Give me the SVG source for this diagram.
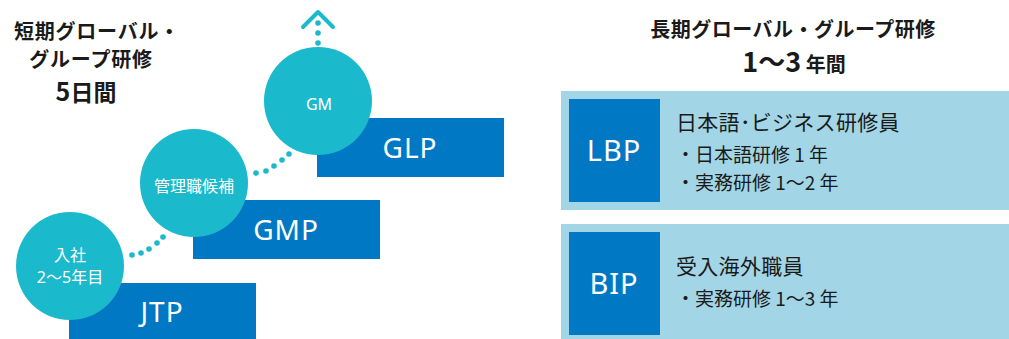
<svg xmlns="http://www.w3.org/2000/svg" width="1009" height="339" viewBox="0 0 1009 339">
<style>
.t{font-family:"Noto Sans CJK JP","Noto Sans",sans-serif;fill:#1a1a1a}
.b{font-weight:bold}
.w{fill:#fff;font-family:"Noto Sans","Noto Sans CJK JP",sans-serif}
.rect{fill:#0078c3}
.circ{fill:#1bb9cc}
.lb{fill:#a2d6e6}
.dot{fill:#1bb9cc}
</style>
<rect width="1009" height="339" fill="#fff"/>
<g id="title-short">
<text class="t b" x="97" y="39" font-size="20" text-anchor="middle" letter-spacing="0.8">短期グローバル・</text>
<text class="t b" x="91" y="67" font-size="20" text-anchor="middle" letter-spacing="0.8">グループ研修</text>
<text class="t b" x="86" y="101" font-size="23" text-anchor="middle"><tspan font-size="25">5</tspan>日間</text>
</g>
<g id="connectors">
<g class="dot">
<circle cx="132" cy="255" r="2.8"/><circle cx="141" cy="253" r="2.8"/><circle cx="149" cy="249" r="2.8"/><circle cx="157" cy="243" r="2.8"/><circle cx="163" cy="237" r="2.8"/>
<circle cx="256" cy="173" r="2.8"/><circle cx="266" cy="171" r="2.8"/><circle cx="274" cy="166" r="2.8"/><circle cx="282" cy="160" r="2.8"/><circle cx="289" cy="154" r="2.8"/>
<circle cx="318" cy="23" r="2.8"/><circle cx="318" cy="33" r="2.8"/><circle cx="318" cy="43" r="2.8"/>
</g>
<polyline points="303,27 318,12 333,27" fill="none" stroke="#1bb9cc" stroke-width="4" stroke-linecap="round" stroke-linejoin="round"/>
</g>
<g id="JTP">
<rect class="rect" x="69" y="283" width="187" height="60"/>
<text class="w" x="162" y="322" font-size="28" text-anchor="middle" letter-spacing="1">JTP</text>
</g>
<g id="GMP">
<rect class="rect" x="193" y="200" width="187" height="59"/>
<text class="w" x="286" y="240" font-size="28" text-anchor="middle" letter-spacing="1">GMP</text>
</g>
<g id="GLP">
<rect class="rect" x="317" y="118" width="187" height="59"/>
<text class="w" x="410" y="158" font-size="28" text-anchor="middle" letter-spacing="1">GLP</text>
</g>
<g id="node-nyusha">
<circle class="circ" cx="70" cy="266" r="54"/>
<text class="w" x="70" y="261" font-size="16" text-anchor="middle">入社</text>
<text class="w" x="70" y="283" font-size="16" text-anchor="middle">2〜5年目</text>
</g>
<g id="node-kanri">
<circle class="circ" cx="194" cy="183" r="54"/>
<text class="w" x="194" y="192" font-size="16" text-anchor="middle">管理職候補</text>
</g>
<g id="node-gm">
<circle class="circ" cx="318" cy="101" r="54"/>
<text class="w" x="319" y="110" font-size="16" text-anchor="middle">GM</text>
</g>
<g id="title-long">
<text class="t b" x="793" y="37" font-size="20" text-anchor="middle" letter-spacing="0.5">長期グローバル・グループ研修</text>
<text class="t b" x="794" y="72" font-size="20" text-anchor="middle"><tspan font-size="27">1〜3</tspan> 年間</text>
</g>
<g id="LBP">
<rect class="lb" x="561" y="91" width="448" height="119"/>
<rect class="rect" x="569" y="99" width="91" height="103"/>
<text class="w" x="614" y="161" font-size="29" text-anchor="middle" letter-spacing="1">LBP</text>
<text class="t" x="676" y="130" font-size="21" letter-spacing="0.3">日本語･ビジネス研修員</text>
<text class="t" x="676" y="162" font-size="19">・日本語研修 1 年</text>
<text class="t" x="676" y="190" font-size="19">・実務研修 1〜2 年</text>
</g>
<g id="BIP">
<rect class="lb" x="561" y="224" width="448" height="115"/>
<rect class="rect" x="569" y="232" width="91" height="103"/>
<text class="w" x="614" y="294" font-size="29" text-anchor="middle" letter-spacing="1">BIP</text>
<text class="t" x="676" y="274" font-size="21" letter-spacing="0.3">受入海外職員</text>
<text class="t" x="676" y="306" font-size="19">・実務研修 1〜3 年</text>
</g>
</svg>
